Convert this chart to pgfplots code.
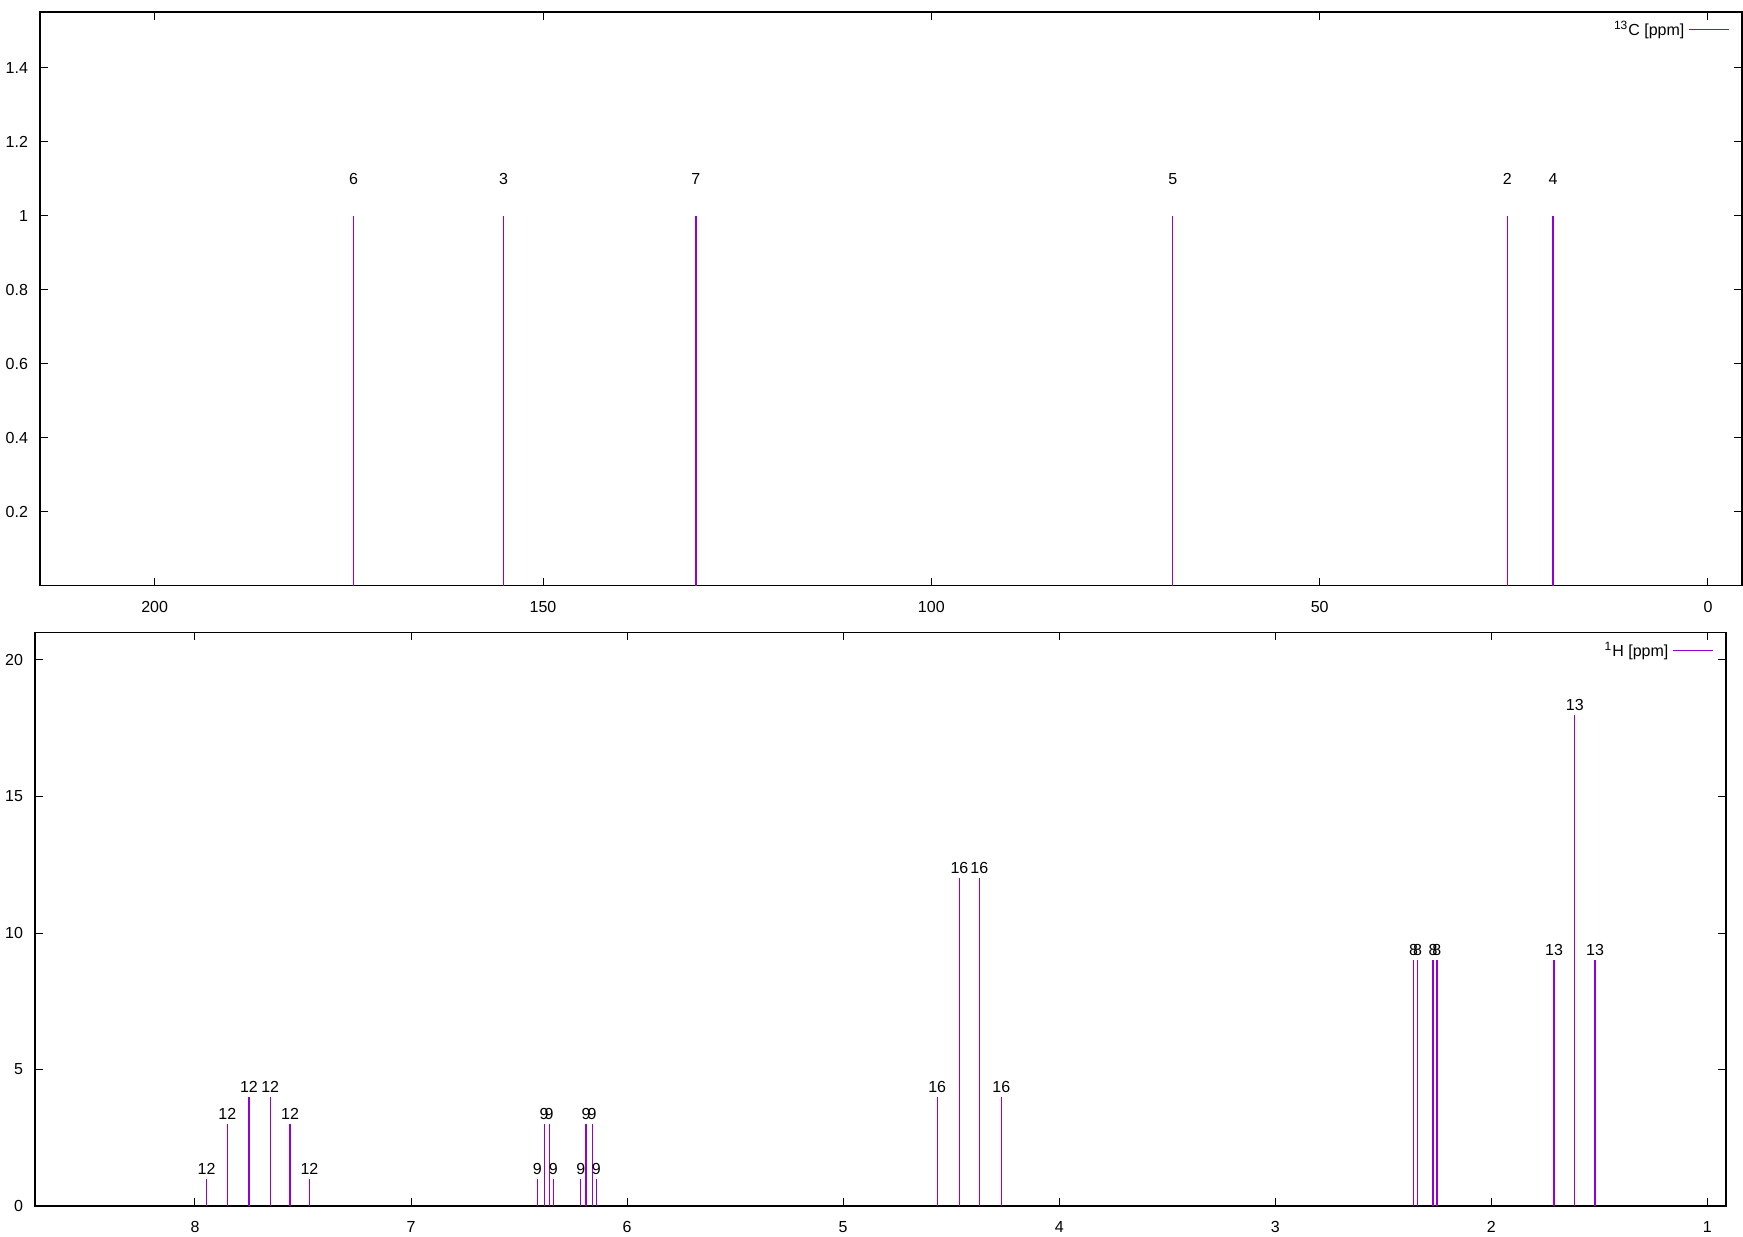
\documentclass[border=0pt]{standalone}
\usepackage{pgfplots}
\pgfplotsset{compat=1.18}
\usepackage{fontspec}
\setmainfont{Liberation Sans}
\definecolor{gpviolet}{RGB}{148,0,211}
\newcommand{\lblfont}{\fontsize{8}{9.6}\selectfont}

\pgfplotsset{
  nmr/.style={
    scale only axis,
    x dir=reverse,
    axis line style={line width=0.6pt},
    tick pos=both,
    tick align=inside,
    major tick length=3.8pt,
    tick style={line width=0.5pt, black},
    /pgf/number format/assume math mode=true,
    tick label style={font=\lblfont},
    xticklabel style={yshift=-4.2pt},
    yticklabel style={xshift=-2.5pt},
    legend plot pos=right,
    legend cell align=right,
    legend style={draw=none, fill=none, font=\lblfont, at={(1,1)}, anchor=north east,
                  xshift=-3pt, yshift=-0.5pt},
    legend image code/.code={\draw[#1, line width=0.6pt] (0pt,0pt) -- (20pt,0pt);},
  },
  stick/.style={gpviolet, line width=0.6pt, ycomb, mark=none,
    nodes near coords, point meta=explicit symbolic,
    nodes near coords style={anchor=center, font=\lblfont, text=black}},
}

\begin{document}
\begin{tikzpicture}
  % 13C spectrum
  \begin{axis}[nmr,
    at={(20pt,325.15pt)}, anchor=south west,
    width=851pt, height=286.85pt,
    xmin=-4.38, xmax=214.77,
    ymin=0, ymax=1.55,
    xtick={0,50,...,200},
    ytick={0.2,0.4,...,1.4},
  ]
  \addplot+[stick, nodes near coords style={yshift=18.3pt}] table[meta=lab] {
    x      y  lab
    174.40 1  6
    155.07 1  3
    130.31 1  7
    68.91  1  5
    25.83  1  2
    19.96  1  4
  };
  \addlegendentry{\textsuperscript{13}C [ppm]}
  \end{axis}

  % 1H spectrum
  \begin{axis}[nmr,
    at={(17.5pt,15pt)}, anchor=south west,
    width=845.5pt, height=286.65pt,
    xmin=0.914, xmax=8.7405,
    ymin=0, ymax=21,
    xtick={1,2,...,8},
    ytick={0,5,...,20},
  ]
  \addplot+[stick, nodes near coords style={yshift=5pt}] table[meta=lab] {
    x     y   lab
    7.946 1   12
    7.850 3   12
    7.750 4   12
    7.652 4   12
    7.560 3   12
    7.470 1   12
    6.415 1   9
    6.384 3   9
    6.361 3   9
    6.342 1   9
    6.214 1   9
    6.190 3   9
    6.162 3   9
    6.142 1   9
    4.565 4   16
    4.462 12  16
    4.370 12  16
    4.268 4   16
    2.360 9   8
    2.342 9   8
    2.270 9   8
    2.252 9   8
    1.710 9   13
    1.614 18  13
    1.520 9   13
  };
  \addlegendentry{\textsuperscript{1}H [ppm]}
  \end{axis}

  \pgfresetboundingbox
  \path (0pt,0pt) rectangle (871.5pt,618pt);
\end{tikzpicture}
\end{document}
